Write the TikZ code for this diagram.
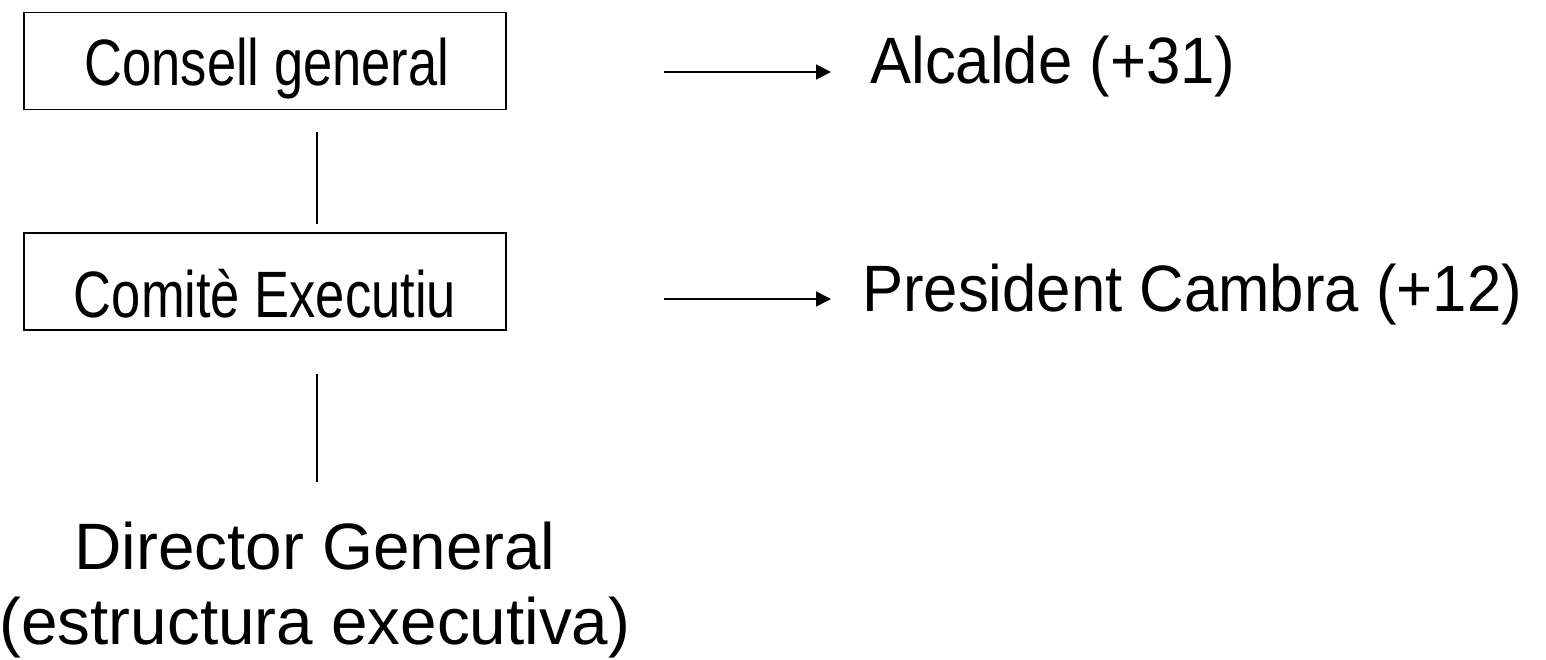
\documentclass[tikz,border=0pt]{standalone}
\usepackage{fontspec}
\setmainfont{Liberation Sans}
\newfontfamily\narrowfont{Liberation Sans}[FakeStretch=0.8]
\newfontfamily\sidefont{Liberation Sans}[FakeStretch=0.94]
\usetikzlibrary{arrows.meta}
\begin{document}
\begin{tikzpicture}[x=1pt,y=-1pt,
  box/.style={draw=black,line width=1.3pt,rectangle,minimum width=482pt,minimum height=97pt,inner sep=0pt},
  boxtext/.style={inner sep=0pt,anchor=base,font=\narrowfont\fontsize{65.6}{75}\selectfont},
  sidetext/.style={inner sep=0pt,anchor=base west,font=\sidefont\fontsize{65.6}{75}\selectfont},
  plain/.style={inner sep=0pt,font=\fontsize{65.6}{75}\selectfont},
  link/.style={line width=1.6pt},
  arr/.style={line width=1.6pt,-{Triangle[length=15pt,width=15pt]}}]
\useasboundingbox (0,0) rectangle (1546,659);
\fill[white] (0,0) rectangle (1546,659);
% boxes
\node[box] (b1) at (265,61) {};
\node[box] (b2) at (265,281.5) {};
\node[boxtext] (t1) at (267,85) {Consell general};
\node[boxtext] (t2) at (265,317) {Comitè Executiu};
% right texts
\node[sidetext] (alc) at (870,83) {Alcalde (+31)};
\node[sidetext] (pre) at (862,311) {President Cambra (+12)};
% director
\node[plain,anchor=base,align=center] (dir) at (315,644) {Director General\\(estructura executiva)};
% connectors
\coordinate (v1a) at (317,132);
\coordinate (v1b) at (317,224);
\coordinate (v2a) at (317,374);
\coordinate (v2b) at (317,482);
\draw[link] (v1a) -- (v1b);
\draw[link] (v2a) -- (v2b);
\coordinate (a1s) at (664,72);
\coordinate (a1e) at (831,72);
\coordinate (a2s) at (664,299);
\coordinate (a2e) at (831,299);
\draw[arr] (a1s) -- (a1e);
\draw[arr] (a2s) -- (a2e);
\end{tikzpicture}
\end{document}
